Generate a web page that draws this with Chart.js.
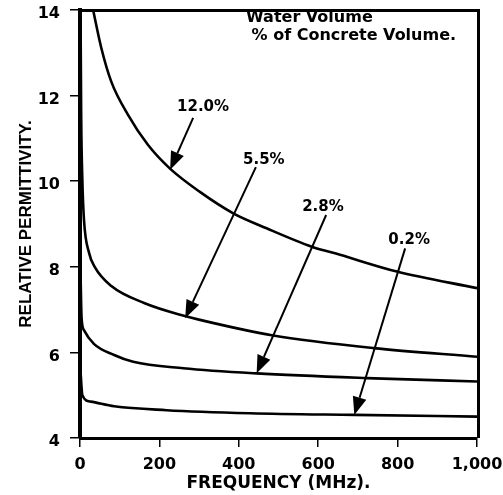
<!DOCTYPE html>
<html>
<head>
<meta charset="utf-8">
<script src="https://cdn.jsdelivr.net/npm/chart.js@4.4.1/dist/chart.umd.min.js"></script>
<style>
  html, body { margin: 0; padding: 0; background: #ffffff; }
  #wrap { width: 503px; height: 495px; }
</style>
</head>
<body>
<div id="wrap"><canvas id="c" width="503" height="495"></canvas></div>
<script>
// ---- data ----
const freq120 = [33, 54, 79, 121, 171, 226, 302, 386, 470, 584, 655, 798, 1000];
const eps120  = [14.0, 13.1, 12.32, 11.55, 10.85, 10.3, 9.75, 9.25, 8.9, 8.47, 8.28, 7.89, 7.5];

const freq55 = [1, 3, 6, 10, 23, 37, 79, 163, 264, 302, 483, 739, 1000];
const eps55  = [14.5, 11.5, 10.0, 9.1, 8.32, 8.0, 7.55, 7.15, 6.85, 6.76, 6.4, 6.1, 5.9];

const freq28 = [1, 4, 10, 35, 86, 134, 260, 445, 722, 1000];
const eps28  = [8.0, 6.8, 6.52, 6.2, 5.94, 5.78, 5.63, 5.51, 5.4, 5.32];

const freq02 = [1, 6, 27, 86, 218, 428, 691, 1000];
const eps02  = [5.6, 5.0, 4.85, 4.74, 4.65, 4.58, 4.54, 4.5];

const seriesLabels = ['12.0%', '5.5%', '2.8%', '0.2%'];
// label anchor (freq, eps), arrow tail (freq, eps), arrow tip (freq, eps)
const labelFreq = [310, 463, 612, 829];
const labelEps  = [11.73, 10.5, 9.4, 8.63];
const tailFreq  = [285, 443, 620, 819];
const tailEps   = [11.48, 10.33, 9.21, 8.43];
const tipFreq   = [227, 265, 445, 691];
const tipEps    = [10.27, 6.8, 5.51, 4.54];

const xTicks = [0, 200, 400, 600, 800, 1000];
const yTicks = [4, 6, 8, 10, 12, 14];
const legendLines = ['Water Volume', ' % of Concrete Volume.'];

function pts(xs, ys) { return xs.map((x, i) => ({ x: x, y: ys[i] })); }

const lineStyle = {
  borderColor: '#000', borderWidth: 2.6, pointRadius: 0,
  cubicInterpolationMode: 'monotone', fill: false
};

const annot = {
  id: 'annot',
  afterDatasetsDraw(chart) {
    const ctx = chart.ctx;
    const xs = chart.scales.x, ys = chart.scales.y;
    const a = chart.chartArea;
    ctx.save();
    // top and right frame
    ctx.strokeStyle = '#000';
    ctx.lineWidth = 3;
    ctx.beginPath();
    ctx.moveTo(a.left, a.top + 0.5);
    ctx.lineTo(a.right + 1.5, a.top + 0.5);
    ctx.lineTo(a.right + 1.5, a.bottom);
    ctx.stroke();

    // arrows
    for (let i = 0; i < seriesLabels.length; i++) {
      const x0 = xs.getPixelForValue(tailFreq[i]), y0 = ys.getPixelForValue(tailEps[i]);
      const x1 = xs.getPixelForValue(tipFreq[i]), y1 = ys.getPixelForValue(tipEps[i]);
      const ang = Math.atan2(y1 - y0, x1 - x0);
      const hl = 18, hw = 7;
      const bx = x1 - hl * Math.cos(ang), by = y1 - hl * Math.sin(ang);
      ctx.lineWidth = 2;
      ctx.beginPath();
      ctx.moveTo(x0, y0);
      ctx.lineTo(bx, by);
      ctx.stroke();
      ctx.beginPath();
      ctx.moveTo(x1, y1);
      ctx.lineTo(bx + hw * Math.sin(ang), by - hw * Math.cos(ang));
      ctx.lineTo(bx - hw * Math.sin(ang), by + hw * Math.cos(ang));
      ctx.closePath();
      ctx.fillStyle = '#000';
      ctx.fill();
      // label
      ctx.font = 'bold 15px "DejaVu Sans"';
      ctx.textAlign = 'center';
      ctx.textBaseline = 'middle';
      ctx.fillText(seriesLabels[i], xs.getPixelForValue(labelFreq[i]), ys.getPixelForValue(labelEps[i]));
    }

    // legend text
    ctx.font = 'bold 16px "DejaVu Sans"';
    ctx.textAlign = 'left';
    ctx.textBaseline = 'middle';
    ctx.fillText(legendLines[0], 246, 18);
    ctx.fillText(legendLines[1], 246, 36);
    ctx.restore();
  }
};

new Chart(document.getElementById('c'), {
  type: 'line',
  data: {
    datasets: [
      Object.assign({ label: seriesLabels[0], data: pts(freq120, eps120) }, lineStyle),
      Object.assign({ label: seriesLabels[1], data: pts(freq55, eps55) }, lineStyle),
      Object.assign({ label: seriesLabels[2], data: pts(freq28, eps28) }, lineStyle),
      Object.assign({ label: seriesLabels[3], data: pts(freq02, eps02) }, lineStyle)
    ]
  },
  options: {
    responsive: false,
    animation: false,
    layout: { padding: { left: 0, top: 10, right: 26, bottom: 0 } },
    plugins: { legend: { display: false }, tooltip: { enabled: false } },
    scales: {
      x: {
        type: 'linear', min: 0, max: 1000,
        afterBuildTicks(s) { s.ticks = xTicks.map(v => ({ value: v })); },
        afterFit(s) { s.height = 57; s.paddingLeft = 0; s.paddingRight = 0; },
        border: { display: true, color: '#000', width: 3 },
        grid: { drawOnChartArea: false, color: '#000', tickLength: 9, lineWidth: 1.5 },
        ticks: {
          color: '#000', padding: 8, maxRotation: 0,
          font: { family: 'DejaVu Sans', weight: 'bold', size: 16 },
          callback: v => v === 1000 ? '1,000' : String(v)
        },
        title: {
          display: true, text: 'FREQUENCY (MHz).', color: '#000',
          font: { family: 'DejaVu Sans', weight: 'bold', size: 17 },
          padding: { top: 0, bottom: 1 }
        }
      },
      y: {
        type: 'linear', min: 4, max: 14,
        afterBuildTicks(s) { s.ticks = yTicks.map(v => ({ value: v })); },
        afterFit(s) { s.width = 80; s.paddingTop = 0; s.paddingBottom = 0; },
        border: { display: true, color: '#000', width: 4 },
        grid: { drawOnChartArea: false, color: '#000', tickLength: 10, lineWidth: 1.5 },
        ticks: {
          color: '#000', padding: 10, labelOffset: 4,
          font: { family: 'DejaVu Sans', weight: 'bold', size: 16 }
        },
        title: {
          display: true, text: 'RELATIVE PERMITTIVITY.', color: '#000',
          font: { family: 'Liberation Sans', weight: 'bold', size: 17 },
          padding: { top: 16, bottom: 0 }
        }
      }
    }
  },
  plugins: [annot]
});
</script>
</body>
</html>
